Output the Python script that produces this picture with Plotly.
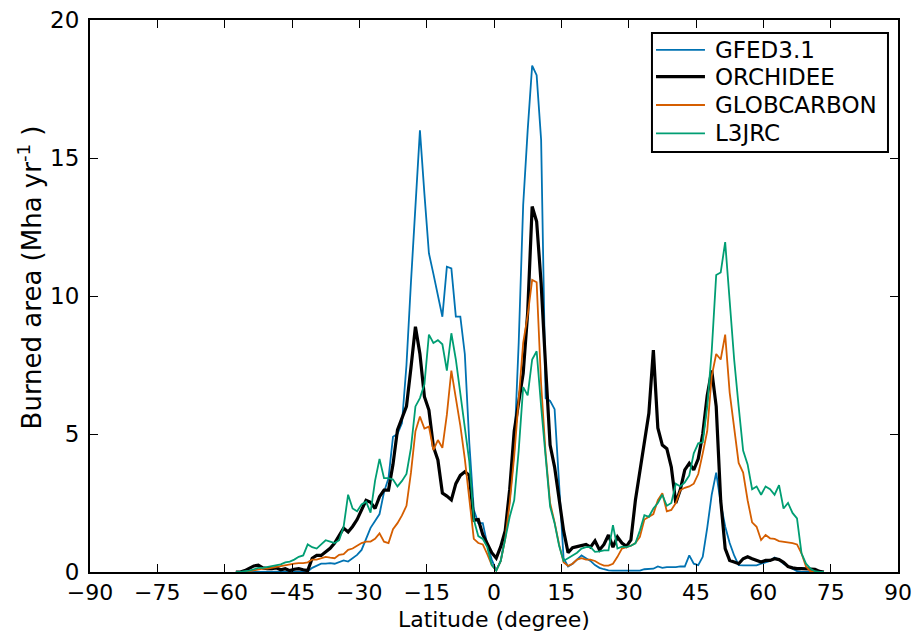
import numpy as np
import plotly.graph_objects as go

# Latitude band centres (1 degree bins), -57.5 .. 73.5
lat = [-57.5 + i for i in range(132)]

gfed = [
    0, 0, 0, 0, 0, 0, 0, 0, 0, 0,
    0, 0, 0, 0, 0, 0, 0.02, 0.15, 0.22, 0.3,
    0.3, 0.32, 0.3, 0.35, 0.42, 0.38, 0.5, 0.62, 0.8, 1.2,
    1.6, 1.85, 2.1, 2.9, 3.4, 4.9, 5.0, 5.4, 7.5, 10.5,
    13.3, 16.0, 13.7, 11.55, 10.8, 10.0, 9.25, 11.06, 11.0, 9.25,
    9.25, 7.9, 4.67, 2.25, 1.77, 1.77, 1.0, 0.45, 0.06, 0.4,
    1.3, 2.6, 4.4, 8.3, 13.3, 16.0, 18.35, 18.0, 15.65, 6.3,
    6.2, 5.9, 3.0, 0.5, 0.2, 0.3, 0.45, 0.6, 0.5, 0.4,
    0.25, 0.15, 0.1, 0.06, 0.05, 0.05, 0.05, 0.05, 0.05, 0.05,
    0.05, 0.1, 0.12, 0.12, 0.2, 0.15, 0.18, 0.17, 0.18, 0.2,
    0.2, 0.6, 0.3, 0.25, 0.55, 1.6, 2.8, 3.6, 2.5, 1.65,
    1.05, 0.6, 0.25, 0.24, 0.24, 0.22, 0.24, 0.3, 0.35, 0.4,
    0.52, 0.45, 0.3, 0.2, 0.1, 0.03, 0, 0, 0, 0,
    0, 0,
]

orchidee = [
    0, 0, 0.05, 0.15, 0.22, 0.25, 0.15, 0.12, 0.12, 0.15,
    0.08, 0.12, 0.05, 0.1, 0.12, 0.08, 0.05, 0.5, 0.6, 0.6,
    0.74, 0.86, 1.05, 1.3, 1.59, 1.45, 1.65, 1.9, 2.27, 2.6,
    2.53, 2.3, 2.73, 2.97, 2.97, 3.9, 5.15, 5.6, 6.0, 7.4,
    8.89, 7.9, 6.35, 5.87, 4.54, 4.06, 2.86, 2.75, 2.61, 3.2,
    3.5, 3.63, 3.5, 1.88, 1.9, 1.35, 1.0, 0.7, 0.5, 0.92,
    1.5, 3.0, 5.1, 6.1, 7.2, 9.4, 13.24, 12.7, 10.46, 7.44,
    4.6, 3.8, 2.7, 1.5, 0.7, 0.88, 0.92, 0.95, 1.0, 0.9,
    1.13, 0.8, 1.0, 1.34, 0.9, 1.27, 1.05, 0.93, 1.16, 2.6,
    3.6, 4.6, 5.75, 8.04, 5.22, 4.6, 4.47, 3.8, 2.5, 2.98,
    3.7, 3.94, 3.7, 4.1, 5.0, 6.4, 7.3, 6.0, 2.6, 0.85,
    0.42, 0.36, 0.3, 0.48, 0.55, 0.48, 0.42, 0.36, 0.42, 0.42,
    0.48, 0.45, 0.35, 0.2, 0.15, 0.12, 0.12, 0.12, 0.12, 0.1,
    0.02, 0,
]

globcarbon = [
    0, 0, 0, 0.03, 0.06, 0.1, 0.12, 0.12, 0.15, 0.2,
    0.22, 0.25, 0.28, 0.3, 0.32, 0.32, 0.35, 0.45, 0.45, 0.5,
    0.55, 0.52, 0.5, 0.62, 0.65, 0.8, 0.85, 0.95, 1.05, 1.1,
    1.1, 1.2, 1.4, 1.1, 1.05, 1.55, 1.77, 2.05, 2.4, 3.6,
    5.1, 5.63, 5.2, 5.27, 4.42, 4.78, 4.5, 5.7, 7.3, 6.3,
    5.3, 4.1, 2.7, 1.2, 1.05, 1.0, 0.65, 0.25, 0.05, 0.4,
    1.2, 2.5, 4.2, 6.2, 8.3, 9.3, 10.58, 10.5, 6.8, 4.3,
    2.5, 1.8, 1.0, 0.35, 0.22, 0.3, 0.45, 0.5, 0.45, 0.45,
    0.4, 0.3, 0.23, 0.23, 0.3, 0.55, 0.85, 0.9, 0.95, 1.05,
    1.27, 1.9, 2.0, 2.1, 2.6, 2.85, 2.2, 2.25, 2.5, 2.96,
    3.05, 3.1, 3.2, 3.55, 4.3, 5.1, 7.1, 7.9, 7.7, 8.6,
    6.5, 5.3, 3.95, 3.6, 2.6, 1.8, 1.64, 1.16, 1.34, 1.22,
    1.2, 1.12, 1.1, 1.08, 1.05, 1.0, 0.68, 0.2, 0.02, 0,
    0, 0,
]

l3jrc = [
    0, 0, 0.03, 0.05, 0.1, 0.15, 0.15, 0.18, 0.2, 0.25,
    0.28, 0.35, 0.38, 0.45, 0.55, 0.6, 1.0, 0.9, 0.85, 1.0,
    1.15, 1.1, 1.05, 1.15, 1.64, 2.8, 2.3, 2.2, 2.45, 2.55,
    2.15, 3.3, 4.1, 3.4, 3.4, 3.35, 3.1, 3.3, 3.55, 4.5,
    6.0, 6.3, 6.8, 8.6, 8.3, 8.4, 8.25, 7.3, 8.65, 7.7,
    6.5, 5.4, 4.0, 1.9, 1.3, 1.2, 0.9, 0.25, 0.05, 0.4,
    1.2, 2.0, 2.6, 4.4, 6.7, 6.4, 7.7, 8.0, 6.0, 4.06,
    2.37, 1.77, 0.95, 0.4, 0.5, 0.6, 0.7, 0.85, 0.9, 0.9,
    0.73, 0.75, 0.78, 0.78, 1.7, 0.85, 0.92, 0.9, 0.95, 1.04,
    1.5, 2.06, 2.0, 2.3, 2.5, 2.8, 2.4, 2.5, 3.2, 3.1,
    3.25, 3.5, 4.3, 4.66, 4.7, 6.0, 8.0, 10.76, 10.85, 11.95,
    9.7, 7.7, 6.0, 4.4, 3.9, 3.0, 3.1, 2.8, 3.1, 3.0,
    2.8, 3.15, 2.3, 2.5, 2.14, 1.94, 0.68, 0.3, 0.12, 0.03,
    0, 0,
]

series_names = ["GFED3.1", "ORCHIDEE", "GLOBCARBON", "L3JRC"]
series_values = [gfed, orchidee, globcarbon, l3jrc]
series_colors = ["#0072B2", "#000000", "#D55E00", "#009E73"]
series_widths = [1.8, 3.2, 1.8, 1.8]

x_ticks = list(range(-90, 91, 15))
y_ticks = [0, 5, 10, 15, 20]

FONT = "DejaVu Sans"

fig = go.Figure()
for name, vals, col, w in zip(series_names, series_values, series_colors, series_widths):
    fig.add_trace(go.Scatter(x=lat, y=vals, mode="lines", name=name,
                             line=dict(color=col, width=w), showlegend=False))

axis_common = dict(
    showgrid=False, zeroline=False, showline=True, linecolor="black", linewidth=2,
    mirror="ticks", ticks="inside", ticklen=8, tickwidth=1, tickcolor="black",
    automargin=False,
)

fig.update_xaxes(range=[-90, 90], tickvals=x_ticks, **axis_common, ticklabelstandoff=0,
                 tickfont=dict(family=FONT, size=22, color="black"))
fig.update_yaxes(range=[0, 20], tickvals=y_ticks, **axis_common, ticklabelstandoff=4,
                 tickfont=dict(family=FONT, size=23, color="black"))

# Legend drawn as a framed box in the upper right corner
box_x0, box_x1, box_y0, box_y1 = 0.6955, 0.9876, 0.7609, 0.9764
row_y = [0.9457, 0.8973, 0.8460, 0.7947]
shapes = [dict(type="rect", xref="paper", yref="paper", x0=box_x0, x1=box_x1,
               y0=box_y0, y1=box_y1, line=dict(color="black", width=2),
               fillcolor="white", layer="above")]
annotations = [
    dict(xref="paper", yref="paper", x=-0.074, y=0.534,
         text="Burned area (Mha yr<sup>-1</sup> )", textangle=-90,
         showarrow=False, xanchor="center", yanchor="middle",
         font=dict(family=FONT, size=26, color="black")),
    dict(xref="paper", yref="paper", x=0.5, y=-0.0860,
         text="Latitude (degree)", showarrow=False,
         xanchor="center", yanchor="middle",
         font=dict(family=FONT, size=22, color="black")),
]
for name, col, w, ry in zip(series_names, series_colors, series_widths, row_y):
    shapes.append(dict(type="line", xref="paper", yref="paper", x0=0.7005, x1=0.7611,
                       y0=ry, y1=ry, line=dict(color=col, width=w), layer="above"))
    annotations.append(dict(xref="paper", yref="paper", x=0.7710, y=ry, text=name,
                            showarrow=False, xanchor="left", yanchor="middle",
                            font=dict(family=FONT, size=23, color="black")))

fig.update_layout(
    width=916, height=631,
    margin=dict(l=90, r=18, t=20, b=59),
    paper_bgcolor="white", plot_bgcolor="white",
    font=dict(family=FONT, color="black"),
    shapes=shapes, annotations=annotations,
    showlegend=False,
)

fig.write_html("out.html")
